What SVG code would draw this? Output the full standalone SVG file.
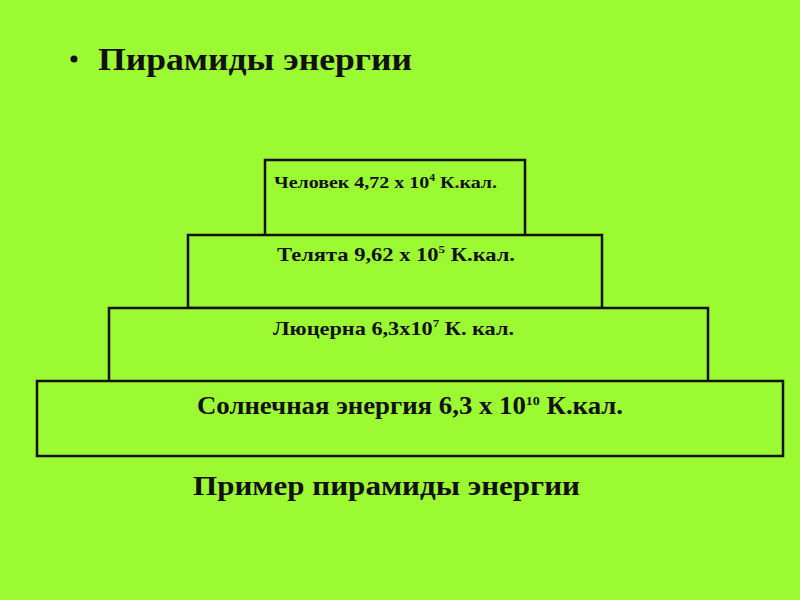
<svg xmlns="http://www.w3.org/2000/svg" width="800" height="600" viewBox="0 0 800 600">
<style>
.bg{fill:#9cfa32}
.box{fill:#9cfa32;stroke:#111;stroke-width:2.5}
.t{font-family:"Liberation Serif","DejaVu Serif",serif;font-weight:bold;fill:#111}
</style>
<rect class="bg" x="0" y="0" width="800" height="600"/>
<g id="title">
<circle cx="74" cy="59" r="3.5" fill="#111"/>
<text class="t" x="98" y="70" font-size="32" textLength="314" lengthAdjust="spacingAndGlyphs">Пирамиды энергии</text>
</g>
<g id="level4">
<rect class="box" x="265" y="160" width="260" height="76"/>
<text class="t" x="274" y="188" font-size="17" textLength="223" lengthAdjust="spacingAndGlyphs">Человек 4,72 x 10<tspan font-size="10" dy="-7">4</tspan><tspan dy="7"> К.кал.</tspan></text>
</g>
<g id="level3">
<rect class="box" x="188" y="235" width="414" height="73"/>
<text class="t" x="277" y="261" font-size="19" textLength="238" lengthAdjust="spacingAndGlyphs">Телята 9,62 x 10<tspan font-size="11" dy="-8">5</tspan><tspan dy="8"> К.кал.</tspan></text>
</g>
<g id="level2">
<rect class="box" x="109" y="308" width="599" height="74"/>
<text class="t" x="273" y="335" font-size="19" textLength="241" lengthAdjust="spacingAndGlyphs">Люцерна 6,3x10<tspan font-size="11" dy="-8">7</tspan><tspan dy="8"> К. кал.</tspan></text>
</g>
<g id="level1">
<rect class="box" x="37" y="381" width="746" height="75"/>
<text class="t" x="197" y="414" font-size="25" textLength="426" lengthAdjust="spacingAndGlyphs">Солнечная энергия 6,3 x 10<tspan font-size="13" dy="-9">10</tspan><tspan dy="9"> К.кал.</tspan></text>
</g>
<g id="caption">
<text class="t" x="193" y="495" font-size="27" textLength="387" lengthAdjust="spacingAndGlyphs">Пример пирамиды энергии</text>
</g>
</svg>
